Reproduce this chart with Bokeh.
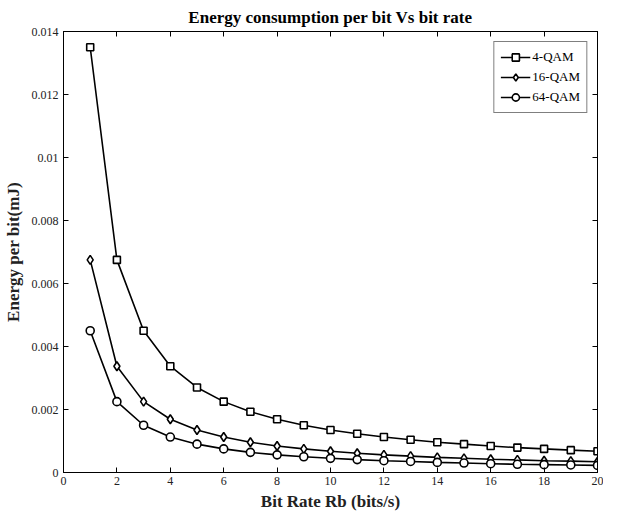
from bokeh.plotting import figure
from bokeh.models import LinearAxis, FixedTicker, Range1d, CustomJSTickFormatter, Legend, LegendItem
from bokeh.embed import file_html
from bokeh.resources import INLINE

bit_rate = [1, 2, 3, 4, 5, 6, 7, 8, 9, 10, 11, 12, 13, 14, 15, 16, 17, 18, 19, 20]
qam4 = [0.0135, 0.00675, 0.0045, 0.003375, 0.0027, 0.00225, 0.00193, 0.00169, 0.0015, 0.00135,
        0.00123, 0.001125, 0.00104, 0.00096, 0.0009, 0.00084, 0.00079, 0.00075, 0.00071, 0.000675]
qam16 = [0.00675, 0.003375, 0.00225, 0.00169, 0.00135, 0.001125, 0.00096, 0.00084, 0.00075, 0.000675,
         0.00061, 0.00056, 0.00052, 0.00048, 0.00045, 0.00042, 0.0004, 0.000375, 0.00036, 0.00034]
qam64 = [0.0045, 0.00225, 0.0015, 0.001125, 0.0009, 0.00075, 0.00064, 0.00056, 0.0005, 0.00045,
         0.00041, 0.000375, 0.00035, 0.00032, 0.0003, 0.00028, 0.00026, 0.00025, 0.00024, 0.000225]
series_names = ["4-QAM", "16-QAM", "64-QAM"]
x_ticks = [0, 2, 4, 6, 8, 10, 12, 14, 16, 18, 20]
y_ticks = [0, 0.002, 0.004, 0.006, 0.008, 0.01, 0.012, 0.014]

FONT = "Liberation Serif"

p = figure(width=603, height=513, output_backend="svg", toolbar_location=None,
           x_range=Range1d(0, 20), y_range=Range1d(0, 0.014),
           x_axis_label="Bit Rate Rb (bits/s)", y_axis_label="Energy per bit(mJ)")
p.min_border_left = 58
p.min_border_right = 6
p.min_border_top = 22
p.min_border_bottom = 38
p.background_fill_color = "white"
p.border_fill_color = "white"
p.outline_line_color = "black"
p.outline_line_width = 1
p.grid.visible = False

p.title.text = "Energy consumption per bit Vs bit rate"
p.title.text_font = FONT
p.title.text_font_size = "17px"
p.title.text_font_style = "bold"
p.title.align = "center"
p.title.text_color = "black"
p.title.offset = -30

fmt = CustomJSTickFormatter(code="var s = tick.toFixed(3); s = s.replace(/0+$/, ''); s = s.replace(/\\.$/, ''); return s;")

for ax in p.xaxis:
    ax.ticker = FixedTicker(ticks=x_ticks)
for ax in p.yaxis:
    ax.ticker = FixedTicker(ticks=y_ticks)
    ax.formatter = fmt

for ax in list(p.xaxis) + list(p.yaxis):
    ax.major_tick_in = 5
    ax.major_tick_out = 0
    ax.minor_tick_in = 0
    ax.minor_tick_out = 0
    ax.axis_line_color = "black"
    ax.major_tick_line_color = "black"
    ax.major_label_text_font = FONT
    ax.major_label_text_font_size = "12px"
    ax.major_label_text_color = "#222222"
    ax.axis_label_text_font = FONT
    ax.axis_label_text_font_size = "17px"
    ax.axis_label_text_font_style = "bold"
    ax.axis_label_text_color = "#222222"
p.xaxis.major_label_standoff = 4
p.xaxis.axis_label_standoff = 4
p.yaxis.major_label_standoff = 5
p.yaxis.axis_label_standoff = 6

top_ax = LinearAxis(ticker=FixedTicker(ticks=x_ticks), major_label_text_font_size="0px",
                    major_tick_in=5, major_tick_out=0, minor_tick_in=0, minor_tick_out=0,
                    major_label_standoff=0)
right_ax = LinearAxis(ticker=FixedTicker(ticks=y_ticks), major_label_text_font_size="0px",
                      major_tick_in=5, major_tick_out=0, minor_tick_in=0, minor_tick_out=0,
                      major_label_standoff=0)
p.add_layout(top_ax, "above")
p.add_layout(right_ax, "right")

markers = ["square", "diamond", "circle"]
sizes = [7, 9, 8]
data = [qam4, qam16, qam64]
items = []
for name, ys, mk, sz in zip(series_names, data, markers, sizes):
    l = p.line(bit_rate, ys, line_color="black", line_width=1.6)
    s = p.scatter(bit_rate, ys, marker=mk, size=sz, line_color="black", line_width=1.6, fill_color="white")
    items.append(LegendItem(label=name, renderers=[l, s]))

legend = Legend(items=items, location="top_right")
legend.label_text_font = FONT
legend.label_text_font_size = "13px"
legend.label_text_color = "black"
legend.border_line_color = "black"
legend.border_line_width = 1
legend.background_fill_alpha = 1
legend.margin = 10
legend.padding = 6
legend.spacing = 2
legend.glyph_width = 30
legend.label_standoff = 2
legend.label_height = 18
legend.glyph_height = 18
p.add_layout(legend)

open("out.html", "w").write(file_html(p, INLINE))
